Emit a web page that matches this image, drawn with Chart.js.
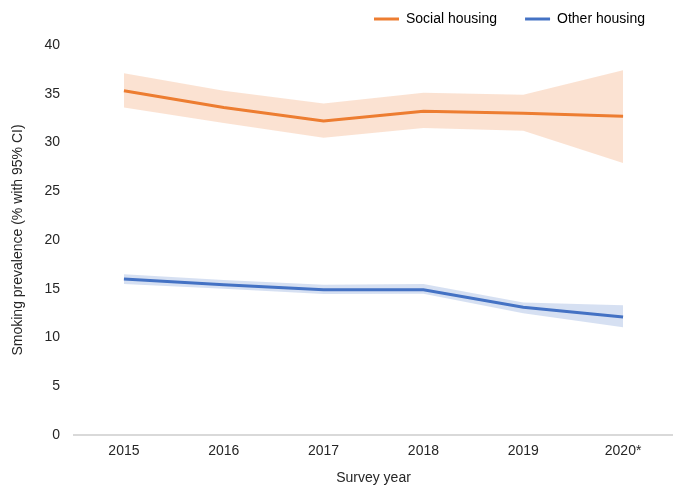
<!DOCTYPE html>
<html>
<head>
<meta charset="utf-8">
<script src="https://cdn.jsdelivr.net/npm/chart.js@4"></script>
<style>
    html, body { margin: 0; padding: 0; background: #fff; }
    #wrap { width: 673px; height: 487px; }
</style>
</head>
<body>
<div id="wrap"><canvas id="smokingChart"></canvas></div>
<script>
//categories
var years = ['2015', '2016', '2017', '2018', '2019', '2020*'];

//social housing (estimate, lower and upper 95% CI)
var social = [35.3, 33.6, 32.2, 33.2, 33.0, 32.7];
var social_low = [33.6, 32.0, 30.5, 31.5, 31.2, 27.9];
var social_high = [37.1, 35.3, 34.0, 35.1, 34.9, 37.4];

//other housing (estimate, lower and upper 95% CI)
var other = [16.0, 15.4, 14.9, 14.9, 13.1, 12.1];
var other_low = [15.5, 15.0, 14.45, 14.5, 12.5, 11.05];
var other_high = [16.5, 15.9, 15.4, 15.5, 13.6, 13.3];

//y axis ticks
var y_min = 0;
var y_max = 40;
var y_step = 5;

const font_family = '"Liberation Sans", Arial, sans-serif';
const text_color = '#262626';

//extra room under the legend
const legendSpacer = {
    id: 'legendSpacer',
    afterInit: function(chart) {
        var fit = chart.legend.fit;
        chart.legend.fit = function() {
            fit.call(this);
            this.height += 9;
        };
    }
};

const ctx = document.getElementById('smokingChart').getContext('2d');
const smoking = new Chart(ctx, {
    type: 'line',
    data: {
        labels: years,
        datasets: [{
            label: 'social_low',
            data: social_low,
            borderWidth: 0,
            pointRadius: 0,
            fill: false,
            order: 3,
        }, {
            label: 'social_high',
            data: social_high,
            borderWidth: 0,
            pointRadius: 0,
            backgroundColor: 'rgba(248, 203, 173, 0.55)',
            fill: '-1',
            order: 3,
        }, {
            label: 'other_low',
            data: other_low,
            borderWidth: 0,
            pointRadius: 0,
            fill: false,
            order: 3,
        }, {
            label: 'other_high',
            data: other_high,
            borderWidth: 0,
            pointRadius: 0,
            backgroundColor: 'rgba(180, 199, 231, 0.55)',
            fill: '-1',
            order: 3,
        }, {
            label: 'Social housing',
            data: social,
            borderColor: '#ED7D31',
            backgroundColor: '#ED7D31',
            borderWidth: 3,
            pointRadius: 0,
            fill: false,
            order: 1,
        }, {
            label: 'Other housing',
            data: other,
            borderColor: '#4472C4',
            backgroundColor: '#4472C4',
            borderWidth: 3,
            pointRadius: 0,
            fill: false,
            order: 1,
        }]
    },
    plugins: [legendSpacer],
    options: {
        responsive: true,
        maintainAspectRatio: false,
        animation: false,
        layout: {
            padding: { top: -16, right: 0, bottom: 0, left: 0 },
        },
        plugins: {
            tooltip: { enabled: false },
            legend: {
                display: true,
                position: 'top',
                align: 'end',
                labels: {
                    boxWidth: 25,
                    boxHeight: 3,
                    padding: 28,
                    color: text_color,
                    font: { family: font_family, size: 14 },
                    filter: function(item) {
                        return item.text == 'Social housing' || item.text == 'Other housing';
                    },
                    generateLabels: function(chart) {
                        return chart.data.datasets.map(function(ds, i) {
                            return {
                                text: ds.label,
                                fillStyle: ds.borderColor,
                                strokeStyle: ds.borderColor,
                                lineWidth: 0,
                                datasetIndex: i,
                            };
                        });
                    },
                },
            },
        },
        scales: {
            x: {
                type: 'category',
                offset: true,
                grid: { display: false, drawTicks: false },
                border: { display: true, color: '#d9d9d9', width: 2 },
                ticks: {
                    padding: 8,
                    color: text_color,
                    font: { family: font_family, size: 14 },
                },
                title: {
                    display: true,
                    text: 'Survey year',
                    color: text_color,
                    font: { family: font_family, size: 14 },
                    padding: { top: 0, bottom: 0 },
                },
                afterFit: function(scale) {
                    scale.height = 52;
                },
            },
            y: {
                min: y_min,
                max: y_max,
                grid: { display: false, drawTicks: false },
                border: { display: false },
                ticks: {
                    stepSize: y_step,
                    padding: 14,
                    color: text_color,
                    font: { family: font_family, size: 14 },
                },
                title: {
                    display: true,
                    text: 'Smoking prevalence (% with 95% CI)',
                    color: text_color,
                    font: { family: font_family, size: 14 },
                    padding: { top: 10, bottom: 0 },
                },
                afterFit: function(scale) {
                    scale.width = 74;
                },
            },
        },
    }
});
</script>
</body>
</html>
